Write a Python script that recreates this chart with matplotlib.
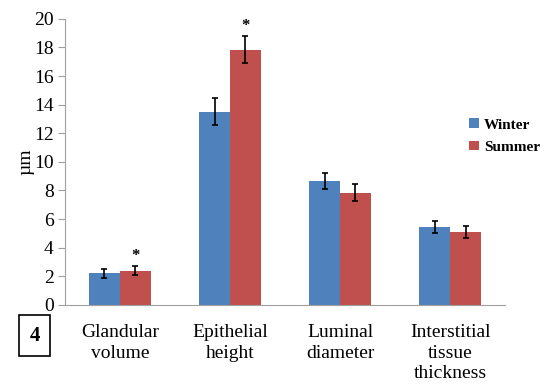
import matplotlib
matplotlib.use("Agg")
import matplotlib.pyplot as plt
import numpy as np

categories = ["Glandular\nvolume", "Epithelial\nheight", "Luminal\ndiameter", "Interstitial\ntissue\nthickness"]
winter = [2.2, 13.5, 8.65, 5.45]
winter_err = [0.3, 0.95, 0.55, 0.4]
summer = [2.4, 17.85, 7.85, 5.1]
summer_err = [0.3, 0.95, 0.6, 0.4]
summer_sig = [True, True, False, False]

plt.rcParams['font.family'] = ['Liberation Serif', 'DejaVu Serif']

fig = plt.figure(figsize=(5.45, 3.85), dpi=100)
ax = fig.add_axes([0.119, 0.208, 0.808, 0.743])

x = np.arange(len(categories))
w = 0.28
ax.bar(x - w / 2, winter, w, color="#4F81BD", label="Winter",
       yerr=winter_err, error_kw=dict(ecolor="black", elinewidth=1.2, capsize=2.5, capthick=1.2))
ax.bar(x + w / 2, summer, w, color="#C0504D", label="Summer",
       yerr=summer_err, error_kw=dict(ecolor="black", elinewidth=1.2, capsize=2.5, capthick=1.2))

for i, s in enumerate(summer_sig):
    if s:
        ax.text(x[i] + w / 2, summer[i] + summer_err[i] + 0.15, "*", ha="center", va="bottom",
                fontsize=12, fontweight="bold")

ax.set_xlim(-0.5, len(categories) - 0.5)
ax.set_ylim(0, 20)
ax.set_yticks(range(0, 21, 2))
ax.set_xticks(x)
ax.set_xticklabels(categories, fontsize=14, va="top", linespacing=1.25)
ax.tick_params(axis="x", length=0, pad=14)
ax.tick_params(axis="y", labelsize=14, length=5, color="#A0A0A0", pad=3)
for sp in ["top", "right"]:
    ax.spines[sp].set_visible(False)
for sp in ["left", "bottom"]:
    ax.spines[sp].set_color("#A0A0A0")
ax.set_ylabel("µm", fontsize=14, labelpad=0)

ax.legend(loc="center left", bbox_to_anchor=(0.905, 0.59), frameon=False,
          prop=dict(weight="bold", size=11), handlelength=0.6, handleheight=0.6,
          handletextpad=0.35, labelspacing=0.6, borderaxespad=0)

fig.text(0.064, 0.128, "4", ha="center", va="center", fontsize=15, fontweight="bold",
         bbox=dict(boxstyle="square,pad=0.5", fc="white", ec="black", lw=1.2))

fig.savefig("out.png", dpi=100)
